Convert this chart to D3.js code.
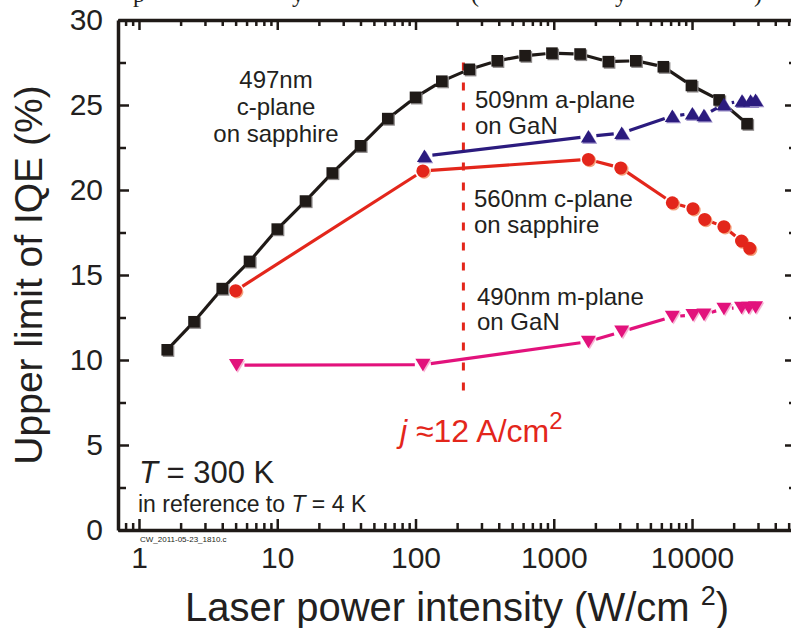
<!DOCTYPE html>
<html>
<head>
<meta charset="utf-8">
<script src="https://cdn.jsdelivr.net/npm/d3@7"></script>
<style>
  body { margin: 0; background: #fff; }
  svg { display: block; font-family: "Liberation Sans", Arial, sans-serif; }
  .axis path, .axis line { stroke: #1f1a17; }
  .axis text { fill: #231f20; font-size: 30px; font-family: "Liberation Sans", Arial, sans-serif; }
  .note { fill: #231f20; font-size: 24px; }
</style>
</head>
<body>
<svg width="791" height="628"></svg>
<script>
// 497nm c-plane on sapphire
const power497 = [1.6, 2.5, 4, 6.3, 10, 16, 25, 40, 63, 100, 155, 245, 390, 620, 970, 1550, 2480, 3920, 6200, 9900, 15700, 25000];
const iqe497 = [10.6, 12.25, 14.2, 15.8, 17.7, 19.35, 21.0, 22.6, 24.2, 25.45, 26.4, 27.1, 27.6, 27.9, 28.05, 28.0, 27.55, 27.6, 27.25, 26.15, 25.3, 23.9];
// 509nm a-plane on GaN
const power509 = [116, 1780, 3100, 7200, 10050, 12200, 17000, 23000, 26500, 28800];
const iqe509 = [22.0, 23.15, 23.35, 24.35, 24.5, 24.4, 25.05, 25.25, 25.25, 25.3];
// 560nm c-plane on sapphire
const power560 = [5.0, 113, 1780, 3050, 7200, 10150, 12350, 17000, 22800, 26100];
const iqe560 = [14.08, 21.12, 21.8, 21.3, 19.25, 18.9, 18.27, 17.84, 17.0, 16.57];
// 490nm m-plane on GaN
const power490 = [5.07, 113, 1780, 3100, 7200, 10150, 12200, 17000, 22800, 25700, 28800];
const iqe490 = [9.7, 9.72, 11.08, 11.67, 12.55, 12.65, 12.68, 13.02, 13.08, 13.08, 13.1];

const xTickLabels = [1, 10, 100, 1000, 10000];
const yTickLabels = [0, 5, 10, 15, 20, 25, 30];
const jLinePower = 222;
const jLineIqe = [7.8, 27.5];

const svg = d3.select('svg');
const mLeft = 118, mRight = 796, mTop = 20, mBottom = 530;

const x = d3.scaleLog().domain([0.705, 56500]).range([mLeft, mRight]);
const y = d3.scaleLinear().domain([0, 30]).range([mBottom, mTop]);

// minor ticks 1..9 per decade
const xTicks = [];
for (let e = -1; e <= 4; e++) {
  for (let m = 1; m <= 9; m++) {
    const v = m * Math.pow(10, e);
    if (v >= 0.705 && v <= 56500) xTicks.push(v);
  }
}
const yTicks = d3.range(0, 30.1, 2.5);
const isMajorX = (d) => xTickLabels.some((t) => Math.abs(t - d) < 1e-6);
const isMajorY = (d) => yTickLabels.includes(d);

function styleAxis(g, majorFn, sign, horizontal, majorLen, minorLen) {
  g.select('.domain').attr('stroke-width', 3.5);
  g.selectAll('.tick line')
    .attr('stroke-width', 2.5)
    .each(function (d) {
      const len = majorFn(d) ? majorLen : minorLen;
      d3.select(this).attr(horizontal ? 'y2' : 'x2', sign * len);
    });
}

// bottom axis
const xAxisG = svg.append('g').attr('class', 'axis')
  .attr('transform', `translate(0,${mBottom})`)
  .call(d3.axisBottom(x).tickValues(xTicks).tickSize(-7).tickSizeOuter(0).tickPadding(17)
    .tickFormat((d) => (isMajorX(d) ? d3.format('d')(d) : '')));
styleAxis(xAxisG, isMajorX, -1, true, 11, 7);

// top axis
const xTopG = svg.append('g').attr('class', 'axis')
  .attr('transform', `translate(0,${mTop})`)
  .call(d3.axisTop(x).tickValues(xTicks).tickSize(-6).tickSizeOuter(0).tickFormat(''));
styleAxis(xTopG, isMajorX, 1, true, 10, 6);

// left axis
const yAxisG = svg.append('g').attr('class', 'axis')
  .attr('transform', `translate(${mLeft},0)`)
  .call(d3.axisLeft(y).tickValues(yTicks).tickSize(-7).tickSizeOuter(0).tickPadding(15)
    .tickFormat((d) => (isMajorY(d) ? d : '')));
styleAxis(yAxisG, isMajorY, 1, false, 11, 8);

// right axis
const yRightG = svg.append('g').attr('class', 'axis')
  .attr('transform', `translate(${mRight},0)`)
  .call(d3.axisRight(y).tickValues(yTicks).tickSize(-7).tickSizeOuter(0).tickFormat(''));
styleAxis(yRightG, isMajorY, -1, false, 11, 7);

// vertical dashed line for j ~ 12 A/cm2
svg.append('line')
  .attr('x1', x(jLinePower)).attr('x2', x(jLinePower))
  .attr('y1', y(jLineIqe[1])).attr('y2', y(jLineIqe[0]))
  .attr('stroke', '#e3261b').attr('stroke-width', 3)
  .attr('stroke-dasharray', '8,12');

// line segments between points, leaving a small gap at each marker
function drawSegments(px, py, color, gap) {
  const pts = px.map((p, i) => [x(p), y(py[i])]);
  const g = svg.append('g');
  for (let i = 0; i < pts.length - 1; i++) {
    const [x1, y1] = pts[i], [x2, y2] = pts[i + 1];
    const dx = x2 - x1, dy = y2 - y1, len = Math.hypot(dx, dy);
    if (len <= 2 * gap + 1) continue;
    const ux = dx / len, uy = dy / len;
    g.append('line')
      .attr('x1', x1 + ux * gap).attr('y1', y1 + uy * gap)
      .attr('x2', x2 - ux * gap).attr('y2', y2 - uy * gap)
      .attr('stroke', color).attr('stroke-width', 3.2);
  }
}

function drawMarkers(px, py, pathFn, color, shadow) {
  const g = svg.append('g');
  px.forEach((p, i) => {
    const cx = x(p), cy = y(py[i]);
    g.append('path').attr('d', pathFn(cx + 1.3, cy + 1.3)).attr('fill', shadow);
    g.append('path').attr('d', pathFn(cx, cy)).attr('fill', color);
  });
}

const square = (cx, cy) => { const s = 5.8; return `M${cx - s},${cy - s}h${2 * s}v${2 * s}h${-2 * s}Z`; };
const circle = (cx, cy) => { const r = 6.5; return `M${cx - r},${cy}a${r},${r} 0 1,0 ${2 * r},0a${r},${r} 0 1,0 ${-2 * r},0Z`; };
const triUp = (cx, cy) => `M${cx},${cy - 6.5}L${cx + 7.5},${cy + 6}L${cx - 7.5},${cy + 6}Z`;
const triDown = (cx, cy) => `M${cx},${cy + 6.5}L${cx + 7.5},${cy - 6}L${cx - 7.5},${cy - 6}Z`;

drawSegments(power490, iqe490, '#e2127c', 8);
drawMarkers(power490, iqe490, triDown, '#e2127c', '#f6b3d2');

drawSegments(power560, iqe560, '#e3261b', 8);
drawMarkers(power560, iqe560, circle, '#e3261b', '#f4a07c');

drawSegments(power497, iqe497, '#1f1a17', 6.5);
drawMarkers(power497, iqe497, square, '#1f1a17', '#8a8686');

drawSegments(power509, iqe509, '#2b1b7e', 8);
drawMarkers(power509, iqe509, triUp, '#2b1b7e', '#9083c2');

// annotations
const notes = [
  { t: '497nm', x: 276, y: 88, a: 'middle' },
  { t: 'c-plane', x: 276, y: 115, a: 'middle' },
  { t: 'on sapphire', x: 276, y: 142, a: 'middle' },
  { t: '509nm a-plane', x: 475, y: 108, a: 'start' },
  { t: 'on GaN', x: 475, y: 134, a: 'start' },
  { t: '560nm c-plane', x: 474, y: 207, a: 'start' },
  { t: 'on sapphire', x: 474, y: 233, a: 'start' },
  { t: '490nm m-plane', x: 477, y: 305, a: 'start' },
  { t: 'on GaN', x: 477, y: 330, a: 'start' },
];
svg.selectAll('text.note').data(notes).enter().append('text')
  .attr('class', 'note')
  .attr('x', (d) => d.x).attr('y', (d) => d.y)
  .attr('text-anchor', (d) => d.a)
  .text((d) => d.t);

const jText = svg.append('text').attr('x', 400).attr('y', 442)
  .attr('fill', '#e3261b').attr('font-size', 32);
jText.append('tspan').attr('font-style', 'italic').text('j');
jText.append('tspan').text(' \u224812 A/cm');
jText.append('tspan').attr('font-size', 24).attr('dy', -13).text('2');

const tText = svg.append('text').attr('x', 139).attr('y', 483)
  .attr('fill', '#231f20').attr('font-size', 31);
tText.append('tspan').attr('font-style', 'italic').text('T');
tText.append('tspan').text(' = 300 K');

const refText = svg.append('text').attr('x', 138).attr('y', 512)
  .attr('fill', '#231f20').attr('font-size', 23);
refText.append('tspan').text('in reference to ');
refText.append('tspan').attr('font-style', 'italic').text('T');
refText.append('tspan').text(' = 4 K');

svg.append('text').attr('x', 140).attr('y', 542)
  .attr('fill', '#231f20').attr('font-size', 8)
  .text('CW_2011-05-23_1810.c');

// axis titles
const xTitle = svg.append('text').attr('x', 185).attr('y', 621)
  .attr('fill', '#231f20').attr('font-size', 40);
xTitle.append('tspan').text('Laser power intensity (W/cm ');
xTitle.append('tspan').attr('font-size', 27).attr('dy', -16).text('2');
xTitle.append('tspan').attr('dy', 16).text(')');

svg.append('text')
  .attr('transform', 'translate(42,275) rotate(-90)')
  .attr('text-anchor', 'middle')
  .attr('fill', '#231f20').attr('font-size', 39)
  .text('Upper limit of IQE (%)');

// cut-off line of text at the very top of the page
const topGlyphs = [
  { t: 'p', x: 133 }, { t: 'y', x: 292 }, { t: '(', x: 471 }, { t: 'y', x: 615 }, { t: ')', x: 754 },
];
svg.selectAll('text.cut').data(topGlyphs).enter().append('text')
  .attr('class', 'cut')
  .attr('x', (d) => d.x).attr('y', 2)
  .attr('font-family', '"Liberation Serif", serif').attr('font-size', 24)
  .attr('fill', '#231f20')
  .text((d) => d.t);
</script>
</body>
</html>
